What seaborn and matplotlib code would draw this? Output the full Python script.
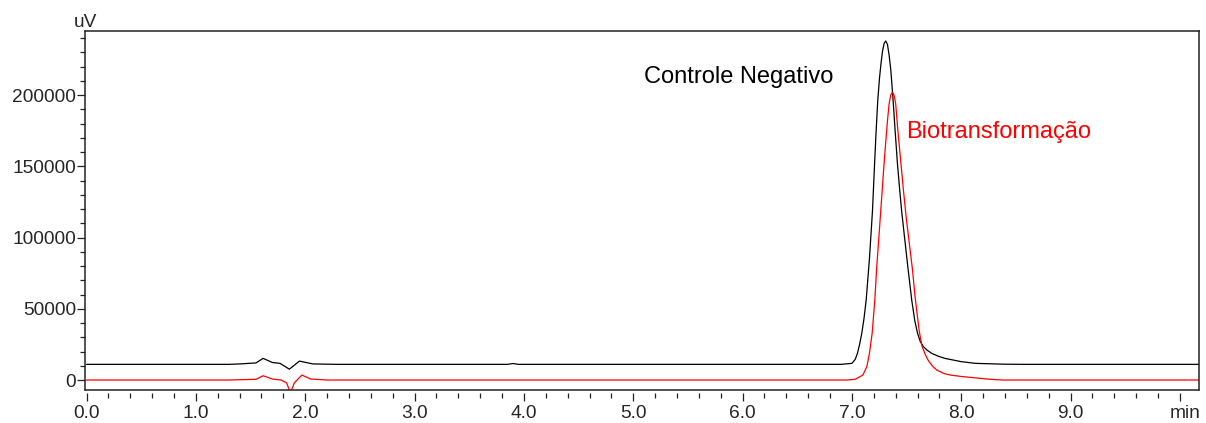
import numpy as np
import pandas as pd
import matplotlib
matplotlib.use("Agg")
import matplotlib.pyplot as plt
from matplotlib.ticker import FixedLocator, MultipleLocator
from matplotlib.transforms import ScaledTranslation
import seaborn as sns

# ---- data (time in min, signal in uV) ----
ctrl_time = [0.00, 1.30, 1.40, 1.55, 1.615, 1.70, 1.77, 1.855, 1.947, 2.07, 2.30,
             3.85, 3.90, 3.95, 6.90, 7.00, 7.03, 7.05, 7.07, 7.09, 7.11, 7.13,
             7.16, 7.188, 7.206, 7.22, 7.236, 7.252, 7.267, 7.28, 7.295, 7.31,
             7.325, 7.34, 7.355, 7.374, 7.395, 7.416, 7.435, 7.454, 7.477, 7.511,
             7.547, 7.575, 7.60, 7.625, 7.654, 7.69, 7.73, 7.79, 7.85, 8.00, 8.13,
             8.40, 8.60, 10.20]
ctrl_signal = [11000, 11000, 11300, 12000, 15200, 12300, 11700, 7600, 13300, 11300, 11000,
               11000, 11600, 11000, 11000, 11700, 14500, 18700, 25000, 32800, 43000, 56000,
               85000, 119000, 150000, 173000, 196000, 212000, 223000, 231000, 236500, 238000,
               235500, 228000, 218000, 199000, 175000, 152000, 135000, 119000, 103000, 79500,
               56000, 41500, 32800, 27000, 23400, 20800, 18700, 16700, 15200, 12900, 11700,
               11100, 11000, 11000]

bio_time = [0.00, 1.30, 1.45, 1.55, 1.615, 1.70, 1.78, 1.83, 1.865, 1.90, 1.97, 2.05,
            2.20, 6.95, 7.03, 7.10, 7.136, 7.16, 7.185, 7.209, 7.227, 7.249, 7.27,
            7.294, 7.31, 7.325, 7.34, 7.355, 7.37, 7.385, 7.40, 7.42, 7.447, 7.47,
            7.495, 7.523, 7.553, 7.578, 7.614, 7.64, 7.67, 7.70, 7.74, 7.776, 7.84,
            7.90, 8.00, 8.13, 8.25, 8.38, 10.20]
bio_signal = [0, 0, 300, 500, 3000, 700, 0, -2000, -9000, -2000, 3500, 700,
              0, 0, 500, 3500, 9400, 18700, 32800, 56000, 79500, 103000, 126000,
              152000, 168000, 182000, 194000, 200000, 202000, 200000, 194000, 175000, 153000, 134000,
              115000, 97000, 78000, 58000, 35000, 24000, 18000, 13500, 9500, 7000, 4600,
              3500, 2500, 1500, 600, 0, 0]

x_major = [0, 1, 2, 3, 4, 5, 6, 7, 8, 9, 10]
x_labels = ["0.0", "1.0", "2.0", "3.0", "4.0", "5.0", "6.0", "7.0", "8.0", "9.0", "min"]
y_major = [0, 50000, 100000, 150000, 200000]
y_labels = ["0", "50000", "100000", "150000", "200000"]

series_names = ["Controle Negativo", "Biotransformação"]
series_colors = ["#000000", "#ff0000"]

df = pd.concat([
    pd.DataFrame({"t": ctrl_time, "v": ctrl_signal, "s": series_names[0]}),
    pd.DataFrame({"t": bio_time, "v": bio_signal, "s": series_names[1]}),
])

sns.set_style("ticks")
plt.rcParams["font.family"] = ["Liberation Sans", "DejaVu Sans"]

fig = plt.figure(figsize=(12.06, 4.23), dpi=100)
ax = fig.add_axes([85 / 1206, 1 - 390 / 423, (1199 - 85) / 1206, (390 - 31) / 423])

sns.lineplot(data=df, x="t", y="v", hue="s", palette=dict(zip(series_names, series_colors)),
             estimator=None, sort=False, linewidth=0.9, legend=False, ax=ax)

ax.set_xlim(-0.014, 10.174)
ax.set_ylim(-7000, 245000)
ax.set_xlabel("")
ax.set_ylabel("")

ax.xaxis.set_major_locator(FixedLocator(x_major))
ax.set_xticklabels(x_labels)
ax.xaxis.set_minor_locator(MultipleLocator(0.2))
ax.yaxis.set_major_locator(FixedLocator(y_major))
ax.set_yticklabels(y_labels)
ax.yaxis.set_minor_locator(MultipleLocator(10000))

for sp in ax.spines.values():
    sp.set_visible(True)
    sp.set_linewidth(1.1)
    sp.set_color("#222222")

# ticks of the x axis sit slightly below the frame
ax.spines["bottom"].set_position(("outward", 2))
ax.spines["bottom"].set_visible(False)
ax.plot([0, 1], [0, 0], transform=ax.transAxes, color="#222222", lw=1.1, clip_on=False)

ax.tick_params(axis="x", which="major", direction="out", length=5.5, width=0.9,
               labelsize=13.8, pad=3, color="#222222")
ax.tick_params(axis="x", which="minor", direction="out", length=3.5, width=0.9, color="#222222")
ax.tick_params(axis="y", which="major", direction="out", length=6, width=0.9,
               labelsize=13.8, pad=0.5, color="#222222")
ax.tick_params(axis="y", which="minor", direction="out", length=3.5, width=0.9, color="#222222")

# the last x label ("min") sits a little right of its tick
last_tick = ax.xaxis.get_major_ticks()[-1]
last_tick.label1.set_transform(last_tick.label1.get_transform()
                               + ScaledTranslation(5 / 100, 0, fig.dpi_scale_trans))

ax.text(0.0, 1.0, "uV", transform=ax.transAxes, ha="center", va="bottom", fontsize=13.8)

ax.text(5.094, 208600, series_names[0], color=series_colors[0], fontsize=17, ha="left", va="baseline")
ax.text(7.495, 169600, series_names[1], color=series_colors[1], fontsize=17, ha="left", va="baseline")

fig.savefig("out.png", dpi=100)
